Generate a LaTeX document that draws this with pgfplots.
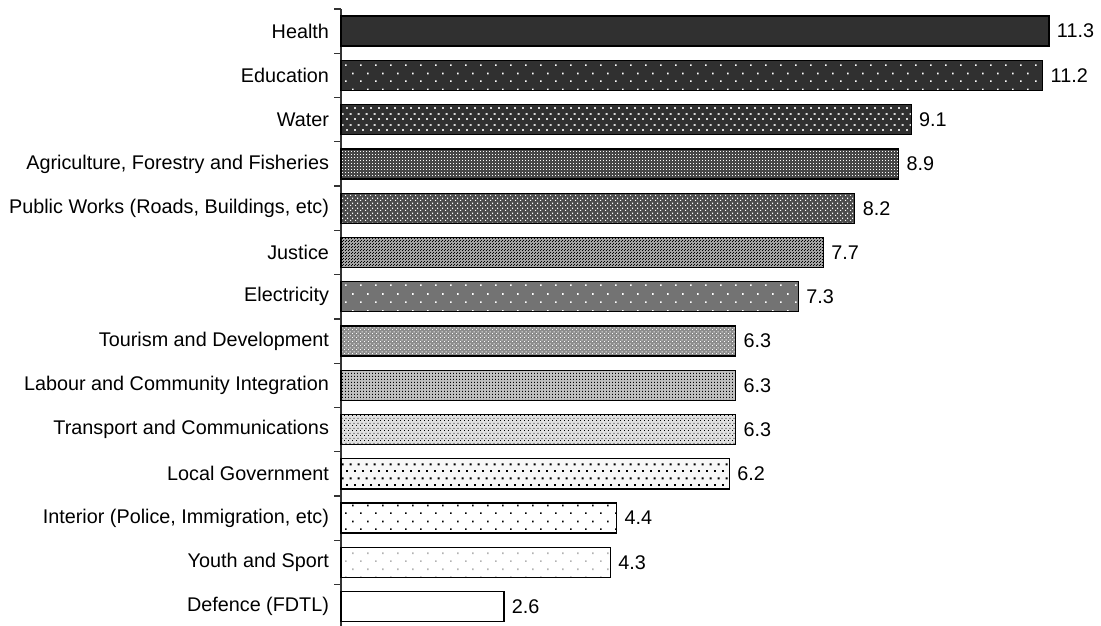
\documentclass[border=0pt]{standalone}
\usepackage{fontspec}
\setmainfont{Liberation Sans}
\usepackage{pgfplots}
\pgfplotsset{compat=1.18}
\usetikzlibrary{patterns}

% staggered dots: name, tile x, tile y, dot size
\newcommand\stagpat[4]{%
\pgfdeclarepatternformonly{#1}{\pgfpoint{0pt}{0pt}}{\pgfpoint{#2}{#3}}{\pgfpoint{#2}{#3}}{%
 \pgfpathrectangle{\pgfpoint{0pt}{0pt}}{\pgfpoint{#4}{#4}}%
 \pgfpathrectangle{\pgfpoint{0.5*#2}{0.5*#3}}{\pgfpoint{#4}{#4}}%
 \pgfusepath{fill}}}
% square grid dots
\newcommand\gridpat[4]{%
\pgfdeclarepatternformonly{#1}{\pgfpoint{0pt}{0pt}}{\pgfpoint{#2}{#3}}{\pgfpoint{#2}{#3}}{%
 \pgfpathrectangle{\pgfpoint{0pt}{0pt}}{\pgfpoint{#4}{#4}}%
 \pgfusepath{fill}}}

\stagpat{pEdu}{15pt}{16pt}{1.8pt}
\stagpat{pWater}{7.7pt}{11pt}{1.9pt}
\gridpat{pAgri}{3pt}{3pt}{1.2pt}
\stagpat{pPub}{5pt}{5pt}{1.3pt}
\stagpat{pJus}{3pt}{3pt}{1pt}
\stagpat{pElec}{15pt}{17pt}{1.8pt}
\stagpat{pTour}{4pt}{4pt}{1.2pt}
\gridpat{pLab}{3pt}{3pt}{1.3pt}
\stagpat{pTrans}{4pt}{5pt}{1.1pt}
\stagpat{pLoc}{7.7pt}{14pt}{2pt}
\stagpat{pInt}{15pt}{16pt}{1.8pt}

\definecolor{dk}{HTML}{303030}

\begin{document}
\begin{tikzpicture}
\begin{axis}[
  name=ax,
  scale only axis, width=760pt, height=619.8pt,
  xbar, bar width=0.678,
  xmin=0, xmax=12.13,
  ymin=-0.5, ymax=13.5, y dir=reverse,
  axis x line=none, axis y line*=left,
  ytick={0,...,13},
  yticklabels={Health, Education, Water, {Agriculture, Forestry and Fisheries}, {Public Works (Roads, Buildings, etc)}, Justice, Electricity, Tourism and Development, Labour and Community Integration, Transport and Communications, Local Government, {Interior (Police, Immigration, etc)}, Youth and Sport, Defence (FDTL)},
  yticklabel style={font=\fontsize{19.8}{24}\selectfont, xshift=-8.5pt},
  major tick length=0pt,
  tick align=outside,
  y axis line style={line width=1.1pt, draw=black!80},
  nodes near coords, point meta=explicit symbolic,
  nodes near coords align={horizontal},
  nodes near coords style={font=\fontsize{19.8}{24}\selectfont, black, anchor=west, xshift=4pt},
  clip=false,
  every axis plot/.append style={bar shift=0pt, draw=black, line width=1.3pt},
]
\addplot[fill=dk] coordinates {(11.3,0) [11.3]};
\addplot[fill=dk, postaction={pattern=pEdu, pattern color=white}] coordinates {(11.2,1) [11.2]};
\addplot[fill=dk, postaction={pattern=pWater, pattern color=black!15}] coordinates {(9.1,2) [9.1]};
\addplot[fill=black!72, postaction={pattern=pAgri, pattern color=white}] coordinates {(8.9,3) [8.9]};
\addplot[fill=black!70, postaction={pattern=pPub, pattern color=white}] coordinates {(8.2,4) [8.2]};
\addplot[fill=black!36, postaction={pattern=pJus, pattern color=black}] coordinates {(7.7,5) [7.7]};
\addplot[fill=black!55, postaction={pattern=pElec, pattern color=white}] coordinates {(7.3,6) [7.3]};
\addplot[fill=black!45, postaction={pattern=pTour, pattern color=white}] coordinates {(6.3,7) [6.3]};
\addplot[fill=black!25, postaction={pattern=pLab, pattern color=black}] coordinates {(6.3,8) [6.3]};
\addplot[fill=black!12, postaction={pattern=pTrans, pattern color=black}] coordinates {(6.3,9) [6.3]};
\addplot[fill=black!3, postaction={pattern=pLoc, pattern color=black}] coordinates {(6.2,10) [6.2]};
\addplot[fill=white, postaction={pattern=pInt, pattern color=black}] coordinates {(4.4,11) [4.4]};
\addplot[fill=white, postaction={pattern=pInt, pattern color=black!30}] coordinates {(4.3,12) [4.3]};
\addplot[fill=white] coordinates {(2.6,13) [2.6]};
% category boundary ticks on the y axis
\pgfplotsinvokeforeach{-0.5,0.5,1.5,2.5,3.5,4.5,5.5,6.5,7.5,8.5,9.5,10.5,11.5,12.5,13.5}{
  \draw[black!80, line width=1.2pt] (axis cs:0,#1) -- ++(-6.5pt,0pt);
}
\end{axis}
\pgfresetboundingbox
\path[use as bounding box] ([xshift=-341pt,yshift=9pt]ax.north west) rectangle ([yshift=2.8pt]ax.south east);
\end{tikzpicture}
\end{document}
